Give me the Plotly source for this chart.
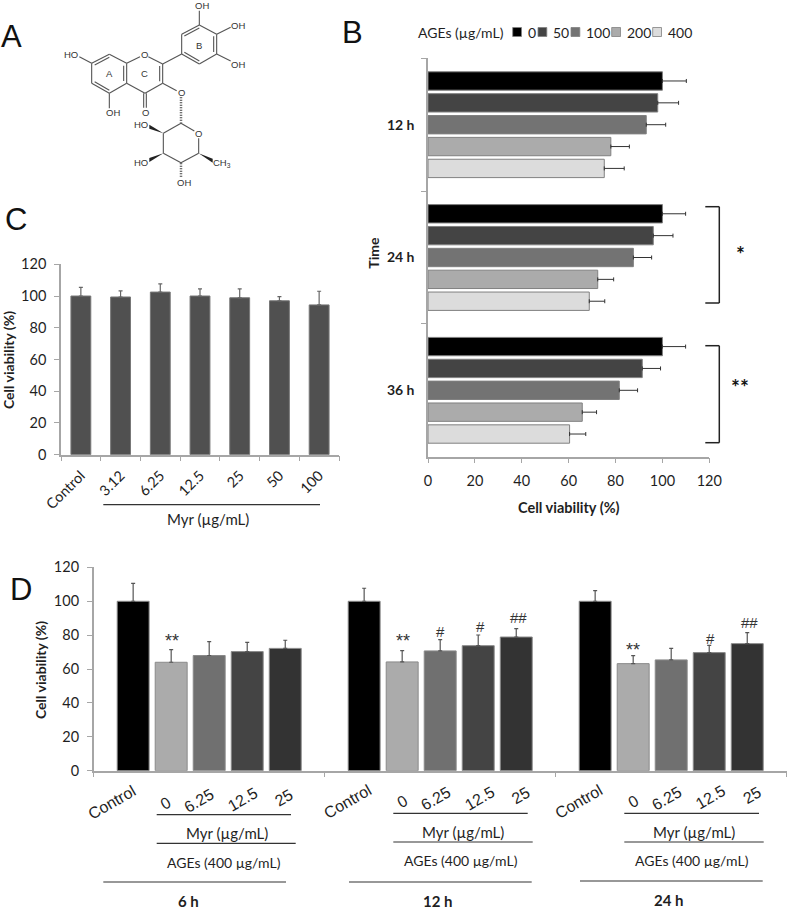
import plotly.graph_objects as go

W, H = 787, 909
TEXT = "#1f1f1f"
AXIS = "#a6a6a6"
FONT = "Lato"

# Panel C
c_doses = ["Control", "3.12", "6.25", "12.5", "25", "50", "100"]
c_values = [100, 99.4, 102.5, 100, 98.9, 97, 94.4]
c_err = [5.5, 3.8, 5.1, 4.5, 5.6, 2.6, 8.6]

# Panel B
b_times = ["12 h", "24 h", "36 h"]
b_doses = ["0", "50", "100", "200", "400"]
b_colors = ["#000000", "#444444", "#737373", "#ababab", "#dcdcdc"]
b_values = [
    [100, 100, 100],
    [98, 96.1, 91.4],
    [93.1, 87.6, 81.6],
    [78, 72.4, 65.8],
    [75.2, 68.8, 60.4],
]
b_err = [
    [10.2, 9.9, 9.9],
    [8.9, 8.4, 7.8],
    [8.3, 7.8, 7.8],
    [7.9, 6.8, 6.1],
    [8.5, 6.6, 6.9],
]

# Panel D
d_times = ["6 h", "12 h", "24 h"]
d_groups = ["Control", "0", "6.25", "12.5", "25"]
d_colors = ["#000000", "#ababab", "#707070", "#444444", "#333333"]
d_values = [
    [100, 100, 100],
    [64, 64.2, 63.2],
    [68, 70.7, 65.4],
    [70.3, 73.8, 69.7],
    [72.2, 78.9, 75],
]
d_err = [
    [10.6, 7.7, 6.3],
    [7.5, 6.7, 4.7],
    [8.2, 6.7, 6.8],
    [5.5, 6.3, 4.3],
    [4.8, 5, 6.5],
]


def px(x):
    return x / W


def py(y):
    return 1 - y / H


fig = go.Figure()

# panel C bars
fig.add_trace(go.Bar(
    x=c_doses, y=c_values, width=0.5, xaxis="x", yaxis="y", showlegend=False,
    marker=dict(color="#505050", line=dict(color="#777777", width=1)),
    error_y=dict(type="data", array=c_err, symmetric=False, arrayminus=[0] * 7,
                 color="#666666", thickness=1.2, width=2),
))

# panel B bars
for i, dose in enumerate(b_doses):
    fig.add_trace(go.Bar(
        y=b_times, x=b_values[i], name=dose, orientation="h", xaxis="x2", yaxis="y2",
        showlegend=False,
        marker=dict(color=b_colors[i], line=dict(color="#808080", width=1)),
        error_x=dict(type="data", array=b_err[i], symmetric=False, arrayminus=[0] * 3,
                     color="#333333", thickness=1, width=2),
    ))

# panel D bars
for i, group in enumerate(d_groups):
    fig.add_trace(go.Bar(
        x=d_times, y=d_values[i], name=group, xaxis="x3", yaxis="y3", showlegend=False,
        marker=dict(color=d_colors[i], line=dict(color="#8a8a8a", width=1)),
        error_y=dict(type="data", array=d_err[i], symmetric=False, arrayminus=[0] * 3,
                     color="#555555", thickness=1.2, width=2),
    ))

axis_style = dict(showline=True, linecolor=AXIS, linewidth=1.5, ticks="outside", ticklen=5,
                  tickcolor=AXIS, tickwidth=1, showgrid=False, zeroline=False, automargin=False,
                  ticklabelstandoff=5, tickfont=dict(size=14.5, color=TEXT, family=FONT))

fig.update_layout(
    width=W, height=H, autosize=False,
    margin=dict(l=0, r=0, t=0, b=0),
    paper_bgcolor="white", plot_bgcolor="white",
    font=dict(family=FONT, color=TEXT),
    barmode="group", bargap=0.177, bargroupgap=0.16,
    xaxis=dict(axis_style, domain=[px(61), px(339)], anchor="y", tickson="boundaries",
               tickangle=-45),
    yaxis=dict(axis_style, domain=[py(454.7), py(264.3)], anchor="x", range=[0, 120], dtick=20),
    xaxis2=dict(axis_style, domain=[px(428), px(709.3)], anchor="y2", range=[0, 120], dtick=20),
    yaxis2=dict(axis_style, domain=[py(456.7), py(58.3)], anchor="x2", tickson="boundaries",
                autorange="reversed"),
    xaxis3=dict(axis_style, domain=[px(93.7), px(786.7)], anchor="y3", tickson="boundaries",
                showticklabels=False),
    yaxis3=dict(axis_style, domain=[py(770.7), py(567.4)], anchor="x3", range=[0, 120], dtick=20),
)
fig.update_layout(yaxis2_tickfont=dict(size=14, color=TEXT, family=FONT, weight="bold"),
                  yaxis2_ticklabelstandoff=9)

annotations = []
shapes = []


def label(text, x, y, size=15, angle=0, bold=False, family=FONT, color=TEXT):
    annotations.append(dict(
        text=text, x=px(x), y=py(y), xref="paper", yref="paper", showarrow=False,
        xanchor="center", yanchor="middle", textangle=angle,
        font=dict(size=size, family=family, color=color, weight="bold" if bold else "normal"),
    ))


def rule(x0, y0, x1, y1, color="#333333", width=1.2, dash=None):
    shapes.append(dict(type="line", xref="paper", yref="paper", x0=px(x0), y0=py(y0),
                       x1=px(x1), y1=py(y1), line=dict(color=color, width=width, dash=dash)))


# panel letters
for letter, lx, ly in [("A", 11, 36), ("B", 352, 32), ("C", 16, 219), ("D", 21, 589)]:
    label(letter, lx, ly, size=31, family="Liberation Sans", color="#111111")

# panel C text
label("Cell viability (%)", 8, 360, size=14, angle=-90, bold=True)
label("Myr (µg/mL)", 207.8, 519.3)
rule(103.3, 504.7, 320, 504.7)

# panel B text, legend and brackets
label("Time", 374, 252.7, size=14, angle=-90, bold=True)
label("Cell viability (%)", 568.7, 507, size=14.5, bold=True)
label("AGEs (µg/mL)", 461, 32, size=14)
swatch_x = [512.7, 538, 571, 611.7, 652.7]
for i, dose in enumerate(b_doses):
    shapes.append(dict(type="rect", xref="paper", yref="paper",
                       x0=px(swatch_x[i]), x1=px(swatch_x[i] + 8.8), y0=py(36.5), y1=py(27.5),
                       fillcolor=b_colors[i], line=dict(color="#808080", width=0.8)))
    annotations.append(dict(text=dose, x=px(swatch_x[i] + 13), y=py(32), xref="paper", yref="paper",
                            showarrow=False, xanchor="left", yanchor="middle",
                            font=dict(size=14, family=FONT, color=TEXT)))
for top, bottom in [(206.7, 303), (345.7, 442.7)]:
    rule(705.3, top, 719.3, top, color="#222222", width=1.5)
    rule(719.3, top, 719.3, bottom, color="#222222", width=1.5)
    rule(705.3, bottom, 719.3, bottom, color="#222222", width=1.5)
label("*", 740.3, 254, size=21, bold=True, color="#111111")
label("**", 740, 387, size=21, bold=True, color="#111111")

# panel D text and rules
label("Cell viability (%)", 40, 670, size=14, angle=-90, bold=True)
d_labels = [
    ("Control", 111.7, 802.3), ("0", 165, 803.3), ("6.25", 199, 800), ("12.5", 242.3, 799.3), ("25", 284.3, 797.7),
    ("Control", 347.7, 801.7), ("0", 402.3, 801.7), ("6.25", 435.7, 798.3), ("12.5", 479.3, 798.3), ("25", 521, 795.7),
    ("Control", 579, 801.7), ("0", 633.3, 801.7), ("6.25", 666.3, 798.3), ("12.5", 710, 797.3), ("25", 751.7, 795),
]
for text, lx, ly in d_labels:
    label(text, lx, ly, angle=-30, family="Liberation Sans", size=16)

d_notes = [
    ("Myr (µg/mL)", 227.3, 832.7, "AGEs (400 µg/mL)", 224, 862, "6 h", 188.3, 901),
    ("Myr (µg/mL)", 462.7, 831.7, "AGEs (400 µg/mL)", 461, 860.3, "12 h", 438, 901),
    ("Myr (µg/mL)", 693.7, 831.7, "AGEs (400 µg/mL)", 692, 860.3, "24 h", 668.7, 900),
]
for myr, mx, my, ages, ax, ay, time_label, tx, ty in d_notes:
    label(myr, mx, my)
    label(ages, ax, ay, size=14)
    label(time_label, tx, ty, bold=True)

d_rules = [
    (156.7, 291, 814.7), (156.7, 295.7, 843.3), (103.3, 286, 882),
    (393.3, 527.7, 813.3), (393.3, 532.7, 842), (349, 531.7, 882),
    (624.3, 759, 813.3), (624.3, 763.7, 842), (580, 762.7, 881),
]
for x0, x1, y in d_rules:
    rule(x0, y, x1, y)

d_stars = [(171.7, 640.5), (402.7, 640.5), (633.3, 650)]
for mx, my in d_stars:
    label("**", mx, my, size=18, family="Liberation Sans", color="#333333")
d_hashes = [("#", 441, 631.7), ("#", 480, 626.7), ("##", 518, 617.3), ("#", 710.7, 638.7), ("##", 749, 622.7)]
for text, mx, my in d_hashes:
    label(text, mx, my, size=15, family="Liberation Sans", color="#333333")

# panel A structure, coordinates taken from a 3x crop
bonds = [
    (275, 190, 328, 163), (328, 163, 380, 190), (380, 190, 380, 250), (380, 250, 328, 280),
    (328, 280, 275, 250), (275, 250, 275, 190), (284, 195, 328, 172), (284, 245, 328, 271),
    (371, 197, 371, 243), (275, 190, 238, 170), (328, 280, 328, 325),
    (380, 190, 420, 170), (445, 170, 488, 192), (488, 192, 488, 250), (479, 198, 479, 244),
    (488, 250, 435, 280), (435, 280, 380, 250), (431, 280, 431, 323), (439, 280, 439, 323),
    (488, 250, 530, 272), (488, 192, 545, 162),
    (545, 162, 545, 103), (545, 103, 598, 75), (598, 75, 650, 103), (650, 103, 650, 162),
    (650, 162, 598, 192), (598, 192, 545, 162), (553, 108, 598, 84), (641, 109, 641, 156),
    (553, 157, 598, 183), (598, 75, 598, 32), (650, 103, 692, 82), (650, 162, 692, 183),
    (543, 370, 583, 393), (596, 415, 596, 460), (596, 460, 543, 488), (543, 488, 490, 460),
    (490, 460, 490, 400), (490, 400, 543, 370),
]
for x0, y0, x1, y1 in bonds:
    rule(x0 / 3, y0 / 3, x1 / 3, y1 / 3, color="#555555", width=1.1)
rule(543 / 3, 292 / 3, 543 / 3, 368 / 3, color="#444444", width=2.5, dash="1px,1.5px")
rule(543 / 3, 490 / 3, 543 / 3, 533 / 3, color="#444444", width=2.5, dash="1px,1.5px")
wedges = [(490, 400, 448, 380), (490, 460, 448, 480), (596, 460, 638, 482)]
for x0, y0, x1, y1 in wedges:
    path = (f"M {px(x0 / 3)} {py(y0 / 3)} L {px(x1 / 3)} {py((y1 - 6) / 3)} "
            f"L {px(x1 / 3)} {py((y1 + 6) / 3)} Z")
    shapes.append(dict(type="path", xref="paper", yref="paper", path=path,
                       fillcolor="#222222", line=dict(width=0)))

atoms = [
    ("HO", 212, 163), ("OH", 340, 338), ("O", 433, 163), ("O", 435, 337), ("O", 543, 278),
    ("OH", 607, 18), ("OH", 714, 77), ("OH", 714, 192), ("O", 596, 402), ("HO", 424, 373),
    ("HO", 424, 488), ("CH<sub>3</sub>", 666, 490), ("OH", 552, 546),
    ("A", 328, 221), ("C", 432, 221), ("B", 598, 135),
]
for text, ax, ay in atoms:
    label(text, ax / 3, ay / 3, size=9.5, family="Liberation Sans", color="#333333")

fig.update_layout(annotations=annotations, shapes=shapes)

# the default body margin would push the figure 8px off the page
fig.write_html("out.html", config={"displayModeBar": False},
               post_script="document.body.style.margin = '0';")
